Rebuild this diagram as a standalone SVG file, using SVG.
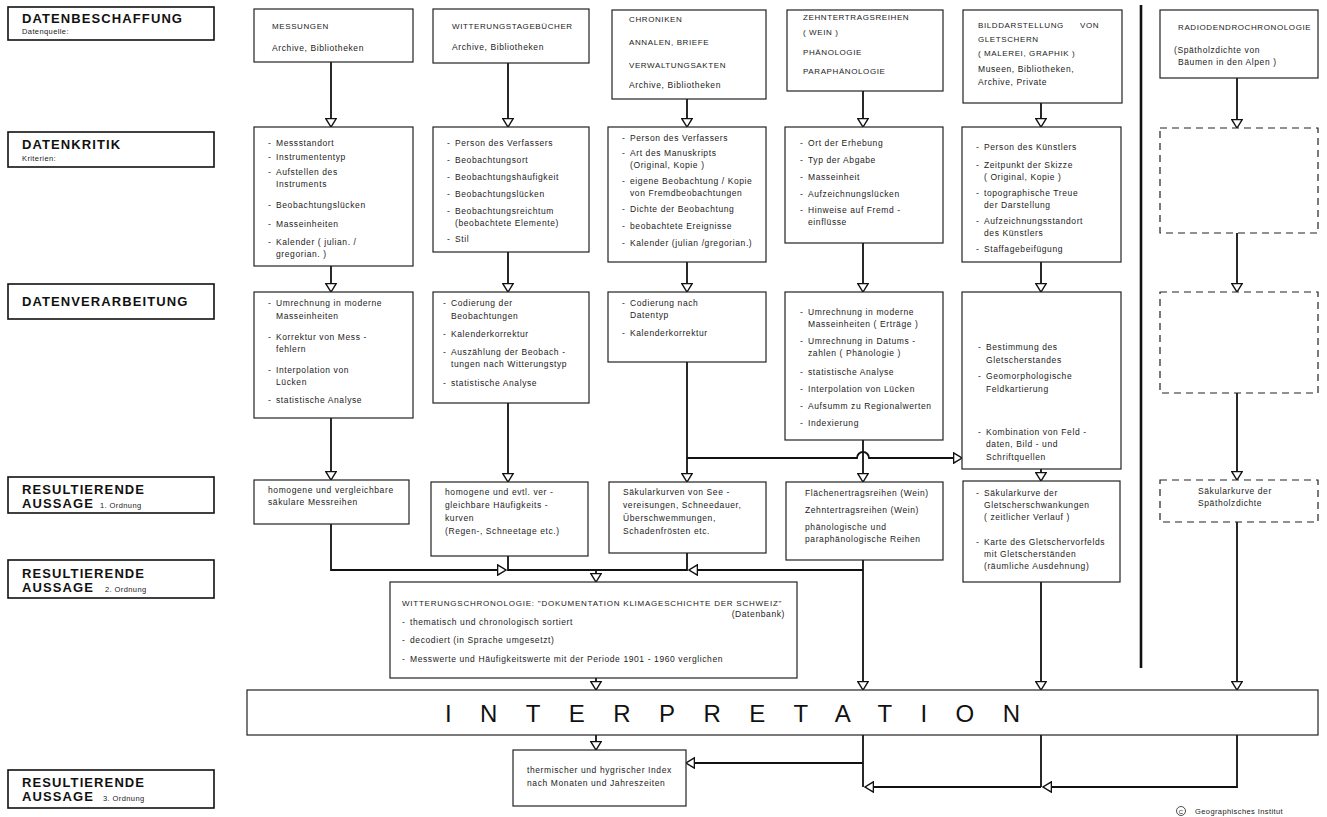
<svg xmlns="http://www.w3.org/2000/svg" width="1327" height="817" viewBox="0 0 1327 817">
<style>
.bg{fill:#ffffff}
.b{fill:#ffffff;stroke:#222;stroke-width:1.2}
.d{fill:#ffffff;stroke:#222;stroke-width:1.2;stroke-dasharray:7 5}
.lb{fill:#ffffff;stroke:#111;stroke-width:1.6}
.c{fill:none;stroke:#111;stroke-width:1.8}
.t{font-family:"Liberation Sans",Arial,sans-serif;font-size:8.5px;letter-spacing:0.6px;fill:#222}
.h{font-family:"Liberation Sans",Arial,sans-serif;font-size:8px;letter-spacing:0.6px;fill:#222}
.L{font-family:"Liberation Sans",Arial,sans-serif;font-size:13px;font-weight:bold;letter-spacing:1.1px;fill:#111}
.s{font-family:"Liberation Sans",Arial,sans-serif;font-size:7.5px;letter-spacing:0.4px;fill:#222}
.I{font-family:"Liberation Sans",Arial,sans-serif;font-size:24px;fill:#111}
</style>
<defs>
<marker id="ar" markerUnits="userSpaceOnUse" viewBox="0 0 10 12" markerWidth="10" markerHeight="12" refX="9.2" refY="6" orient="auto">
<path d="M0.8,0.8 L9.2,6 L0.8,11.2 Z" fill="#ffffff" stroke="#111" stroke-width="1.4"/>
</marker>
</defs>
<rect class="bg" x="0" y="0" width="1327" height="817"/>

<g id="labels">
<g id="lab-beschaffung"><rect class="lb" x="8" y="7" width="206" height="33"/><text class="L" x="22" y="23">DATENBESCHAFFUNG</text><text class="s" x="22" y="34">Datenquelle:</text></g>
<g id="lab-kritik"><rect class="lb" x="8" y="132" width="206" height="35"/><text class="L" x="22" y="149">DATENKRITIK</text><text class="s" x="22" y="161">Kriterien:</text></g>
<g id="lab-verarbeitung"><rect class="lb" x="8" y="284" width="206" height="35"/><text class="L" x="22" y="306">DATENVERARBEITUNG</text></g>
<g id="lab-res1"><rect class="lb" x="8" y="477" width="206" height="36"/><text class="L" x="22" y="494">RESULTIERENDE</text><text class="L" x="22" y="508">AUSSAGE</text><text class="s" x="100" y="508">1. Ordnung</text></g>
<g id="lab-res2"><rect class="lb" x="8" y="560" width="206" height="38"/><text class="L" x="22" y="578">RESULTIERENDE</text><text class="L" x="22" y="592">AUSSAGE</text><text class="s" x="105" y="592">2. Ordnung</text></g>
<g id="lab-res3"><rect class="lb" x="8" y="770" width="206" height="38"/><text class="L" x="22" y="787">RESULTIERENDE</text><text class="L" x="22" y="801">AUSSAGE</text><text class="s" x="103" y="801">3. Ordnung</text></g>
</g>

<line x1="1141" y1="5" x2="1141" y2="668" stroke="#111" stroke-width="2.6"/>

<g id="connectors">
<path class="c" marker-end="url(#ar)" d="M331,62 V127"/>
<path class="c" marker-end="url(#ar)" d="M508,63 V127"/>
<path class="c" marker-end="url(#ar)" d="M687,99 V127"/>
<path class="c" marker-end="url(#ar)" d="M863,91 V127"/>
<path class="c" marker-end="url(#ar)" d="M1041,103 V127"/>
<path class="c" marker-end="url(#ar)" d="M1237,78 V128"/>
<path class="c" marker-end="url(#ar)" d="M331,266 V292"/>
<path class="c" marker-end="url(#ar)" d="M508,252 V292"/>
<path class="c" marker-end="url(#ar)" d="M687,262 V292"/>
<path class="c" marker-end="url(#ar)" d="M863,243 V292"/>
<path class="c" marker-end="url(#ar)" d="M1041,262 V292"/>
<path class="c" marker-end="url(#ar)" d="M1237,233 V292"/>
<path class="c" marker-end="url(#ar)" d="M331,418 V480"/>
<path class="c" marker-end="url(#ar)" d="M508,403 V482"/>
<path class="c" marker-end="url(#ar)" d="M687,362 V482"/>
<path class="c" marker-end="url(#ar)" d="M863,440 V482"/>
<path class="c" marker-end="url(#ar)" d="M1041,469 V481"/>
<path class="c" marker-end="url(#ar)" d="M1237,393 V480"/>
<path class="c" marker-end="url(#ar)" d="M687,458 H857 A6,6 0 0 1 869,458 H962"/>
<path class="c" marker-end="url(#ar)" d="M331,524 V570 H506"/>
<path class="c" d="M508,556 V570 H687 V553"/>
<path class="c" marker-end="url(#ar)" d="M863,570 H689"/>
<path class="c" marker-end="url(#ar)" d="M596,570 V582"/>
<path class="c" marker-end="url(#ar)" d="M863,560 V690"/>
<path class="c" marker-end="url(#ar)" d="M596,678 V690"/>
<path class="c" marker-end="url(#ar)" d="M1041,582 V690"/>
<path class="c" marker-end="url(#ar)" d="M1237,522 V690"/>
<path class="c" marker-end="url(#ar)" d="M596,735 V750"/>
<path class="c" d="M863,735 V787"/>
<path class="c" d="M1041,735 V787"/>
<path class="c" marker-end="url(#ar)" d="M1237,735 V787 H1043"/>
<path class="c" marker-end="url(#ar)" d="M1041,787 H865"/>
<path class="c" marker-end="url(#ar)" d="M863,763 H686"/>
</g>

<g id="n-messungen"><rect class="b" x="254" y="9" width="159" height="53"/><text class="h" x="272" y="29">MESSUNGEN</text><text class="t" x="272" y="51">Archive, Bibliotheken</text></g>
<g id="n-witterungstagebuecher"><rect class="b" x="433" y="9" width="156" height="54"/><text class="h" x="452" y="29">WITTERUNGSTAGEBÜCHER</text><text class="t" x="452" y="50">Archive, Bibliotheken</text></g>
<g id="n-chroniken"><rect class="b" x="612" y="10" width="154" height="89"/><text class="h" x="629" y="22">CHRONIKEN</text><text class="h" x="629" y="45">ANNALEN, BRIEFE</text><text class="h" x="629" y="68">VERWALTUNGSAKTEN</text><text class="t" x="629" y="88">Archive, Bibliotheken</text></g>
<g id="n-zehntertrag"><rect class="b" x="787" y="10" width="156" height="81"/><text class="h" x="803" y="20">ZEHNTERTRAGSREIHEN</text><text class="h" x="803" y="35">( WEIN )</text><text class="h" x="803" y="55">PHÄNOLOGIE</text><text class="h" x="803" y="74">PARAPHÄNOLOGIE</text></g>
<g id="n-bilddarstellung"><rect class="b" x="963" y="10" width="159" height="93"/><text class="h" x="978" y="28">BILDDARSTELLUNG</text><text class="h" x="1080" y="28">VON</text><text class="h" x="978" y="42">GLETSCHERN</text><text class="h" x="978" y="56">( MALEREI, GRAPHIK )</text><text class="t" x="978" y="72">Museen, Bibliotheken,</text><text class="t" x="978" y="85">Archive, Private</text></g>
<g id="n-radiodendro"><rect class="b" x="1160" y="10" width="158" height="68"/><text class="h" x="1178" y="30">RADIODENDROCHRONOLOGIE</text><text class="t" x="1174" y="53">(Spätholzdichte von</text><text class="t" x="1178" y="65">Bäumen in den Alpen )</text></g>

<g id="k-messungen"><rect class="b" x="254" y="127" width="159" height="139"/>
<text class="t"><tspan x="268" y="146">-</tspan><tspan x="276" y="146">Messstandort</tspan><tspan x="268" y="160">-</tspan><tspan x="276" y="160">Instrumententyp</tspan><tspan x="268" y="175">-</tspan><tspan x="276" y="175">Aufstellen des</tspan><tspan x="276" y="187">Instruments</tspan><tspan x="268" y="208">-</tspan><tspan x="276" y="208">Beobachtungslücken</tspan><tspan x="268" y="227">-</tspan><tspan x="276" y="227">Masseinheiten</tspan><tspan x="268" y="245">-</tspan><tspan x="276" y="245">Kalender ( julian. /</tspan><tspan x="276" y="257">gregorian. )</tspan></text></g>
<g id="k-witterung"><rect class="b" x="433" y="127" width="156" height="125"/>
<text class="t"><tspan x="447" y="146">-</tspan><tspan x="455" y="146">Person des Verfassers</tspan><tspan x="447" y="163">-</tspan><tspan x="455" y="163">Beobachtungsort</tspan><tspan x="447" y="180">-</tspan><tspan x="455" y="180">Beobachtungshäufigkeit</tspan><tspan x="447" y="197">-</tspan><tspan x="455" y="197">Beobachtungslücken</tspan><tspan x="447" y="214">-</tspan><tspan x="455" y="214">Beobachtungsreichtum</tspan><tspan x="455" y="226">(beobachtete Elemente)</tspan><tspan x="447" y="242">-</tspan><tspan x="455" y="242">Stil</tspan></text></g>
<g id="k-chroniken"><rect class="b" x="608" y="127" width="158" height="135"/>
<text class="t"><tspan x="622" y="141">-</tspan><tspan x="630" y="141">Person des Verfassers</tspan><tspan x="622" y="156">-</tspan><tspan x="630" y="156">Art des Manuskripts</tspan><tspan x="630" y="168">(Original, Kopie )</tspan><tspan x="622" y="184">-</tspan><tspan x="630" y="184">eigene Beobachtung / Kopie</tspan><tspan x="630" y="196">von Fremdbeobachtungen</tspan><tspan x="622" y="212">-</tspan><tspan x="630" y="212">Dichte der Beobachtung</tspan><tspan x="622" y="229">-</tspan><tspan x="630" y="229">beobachtete Ereignisse</tspan><tspan x="622" y="246">-</tspan><tspan x="630" y="246">Kalender (julian /gregorian.)</tspan></text></g>
<g id="k-zehntertrag"><rect class="b" x="785" y="127" width="158" height="116"/>
<text class="t"><tspan x="800" y="146">-</tspan><tspan x="808" y="146">Ort der Erhebung</tspan><tspan x="800" y="163">-</tspan><tspan x="808" y="163">Typ der Abgabe</tspan><tspan x="800" y="180">-</tspan><tspan x="808" y="180">Masseinheit</tspan><tspan x="800" y="197">-</tspan><tspan x="808" y="197">Aufzeichnungslücken</tspan><tspan x="800" y="213">-</tspan><tspan x="808" y="213">Hinweise auf Fremd -</tspan><tspan x="808" y="225">einflüsse</tspan></text></g>
<g id="k-bild"><rect class="b" x="962" y="127" width="159" height="135"/>
<text class="t"><tspan x="976" y="150">-</tspan><tspan x="984" y="150">Person des Künstlers</tspan><tspan x="976" y="168">-</tspan><tspan x="984" y="168">Zeitpunkt der Skizze</tspan><tspan x="984" y="180">( Original, Kopie )</tspan><tspan x="976" y="196">-</tspan><tspan x="984" y="196">topographische Treue</tspan><tspan x="984" y="208">der Darstellung</tspan><tspan x="976" y="224">-</tspan><tspan x="984" y="224">Aufzeichnungsstandort</tspan><tspan x="984" y="236">des Künstlers</tspan><tspan x="976" y="252">-</tspan><tspan x="984" y="252">Staffagebeifügung</tspan></text></g>
<g id="k-radio"><rect class="d" x="1160" y="128" width="158" height="105"/></g>

<g id="v-messungen"><rect class="b" x="254" y="292" width="159" height="126"/>
<text class="t"><tspan x="268" y="306">-</tspan><tspan x="276" y="306">Umrechnung in moderne</tspan><tspan x="276" y="319">Masseinheiten</tspan><tspan x="268" y="340">-</tspan><tspan x="276" y="340">Korrektur von Mess -</tspan><tspan x="276" y="352">fehlern</tspan><tspan x="268" y="373">-</tspan><tspan x="276" y="373">Interpolation von</tspan><tspan x="276" y="385">Lücken</tspan><tspan x="268" y="403">-</tspan><tspan x="276" y="403">statistische Analyse</tspan></text></g>
<g id="v-witterung"><rect class="b" x="433" y="292" width="156" height="111"/>
<text class="t"><tspan x="443" y="306">-</tspan><tspan x="451" y="306">Codierung der</tspan><tspan x="451" y="319">Beobachtungen</tspan><tspan x="443" y="337">-</tspan><tspan x="451" y="337">Kalenderkorrektur</tspan><tspan x="443" y="355">-</tspan><tspan x="451" y="355">Auszählung der Beobach -</tspan><tspan x="451" y="367">tungen nach Witterungstyp</tspan><tspan x="443" y="386">-</tspan><tspan x="451" y="386">statistische Analyse</tspan></text></g>
<g id="v-chroniken"><rect class="b" x="608" y="292" width="158" height="70"/>
<text class="t"><tspan x="622" y="306">-</tspan><tspan x="630" y="306">Codierung nach</tspan><tspan x="630" y="318">Datentyp</tspan><tspan x="622" y="336">-</tspan><tspan x="630" y="336">Kalenderkorrektur</tspan></text></g>
<g id="v-zehntertrag"><rect class="b" x="785" y="292" width="158" height="148"/>
<text class="t"><tspan x="800" y="315">-</tspan><tspan x="808" y="315">Umrechnung in moderne</tspan><tspan x="808" y="327">Masseinheiten ( Erträge )</tspan><tspan x="800" y="344">-</tspan><tspan x="808" y="344">Umrechnung in Datums -</tspan><tspan x="808" y="356">zahlen ( Phänologie )</tspan><tspan x="800" y="375">-</tspan><tspan x="808" y="375">statistische Analyse</tspan><tspan x="800" y="392">-</tspan><tspan x="808" y="392">Interpolation von Lücken</tspan><tspan x="800" y="409">-</tspan><tspan x="808" y="409">Aufsumm zu Regionalwerten</tspan><tspan x="800" y="426">-</tspan><tspan x="808" y="426">Indexierung</tspan></text></g>
<g id="v-bild"><rect class="b" x="962" y="292" width="159" height="177"/>
<text class="t"><tspan x="978" y="350">-</tspan><tspan x="986" y="350">Bestimmung des</tspan><tspan x="986" y="363">Gletscherstandes</tspan><tspan x="978" y="379">-</tspan><tspan x="986" y="379">Geomorphologische</tspan><tspan x="986" y="392">Feldkartierung</tspan><tspan x="978" y="435">-</tspan><tspan x="986" y="435">Kombination von Feld -</tspan><tspan x="986" y="447">daten, Bild - und</tspan><tspan x="986" y="460">Schriftquellen</tspan></text></g>
<g id="v-radio"><rect class="d" x="1160" y="292" width="158" height="101"/></g>

<g id="r-messungen"><rect class="b" x="254" y="480" width="155" height="44"/><text class="t"><tspan x="268" y="493">homogene und vergleichbare</tspan><tspan x="268" y="505">säkulare Messreihen</tspan></text></g>
<g id="r-witterung"><rect class="b" x="431" y="482" width="157" height="74"/><text class="t"><tspan x="445" y="495">homogene und evtl. ver -</tspan><tspan x="445" y="508">gleichbare Häufigkeits -</tspan><tspan x="445" y="521">kurven</tspan><tspan x="445" y="534">(Regen-, Schneetage etc.)</tspan></text></g>
<g id="r-chroniken"><rect class="b" x="609" y="482" width="157" height="71"/><text class="t"><tspan x="623" y="495">Säkularkurven von See -</tspan><tspan x="623" y="508">vereisungen, Schneedauer,</tspan><tspan x="623" y="521">Überschwemmungen,</tspan><tspan x="623" y="534">Schadenfrösten etc.</tspan></text></g>
<g id="r-zehntertrag"><rect class="b" x="786" y="482" width="157" height="78"/><text class="t"><tspan x="805" y="496">Flächenertragsreihen (Wein)</tspan><tspan x="805" y="513">Zehntertragsreihen (Wein)</tspan><tspan x="805" y="530">phänologische und</tspan><tspan x="805" y="542">paraphänologische Reihen</tspan></text></g>
<g id="r-bild"><rect class="b" x="963" y="481" width="157" height="101"/><text class="t"><tspan x="976" y="496">-</tspan><tspan x="984" y="496">Säkularkurve der</tspan><tspan x="984" y="508">Gletscherschwankungen</tspan><tspan x="984" y="520">( zeitlicher Verlauf )</tspan><tspan x="976" y="545">-</tspan><tspan x="984" y="545">Karte des Gletschervorfelds</tspan><tspan x="984" y="557">mit Gletscherständen</tspan><tspan x="984" y="569">(räumliche Ausdehnung)</tspan></text></g>
<g id="r-radio"><rect class="d" x="1160" y="480" width="158" height="42"/><text class="t"><tspan x="1198" y="494">Säkularkurve der</tspan><tspan x="1198" y="506">Spätholzdichte</tspan></text></g>

<g id="n-witterungschronologie"><rect class="b" x="390" y="582" width="407" height="96"/>
<text class="h" x="402" y="606" textLength="380" lengthAdjust="spacing">WITTERUNGSCHRONOLOGIE: "DOKUMENTATION KLIMAGESCHICHTE DER SCHWEIZ"</text>
<text class="t" x="785" y="617" text-anchor="end">(Datenbank)</text>
<text class="t"><tspan x="402" y="625">-</tspan><tspan x="410" y="625">thematisch und chronologisch sortiert</tspan><tspan x="402" y="643">-</tspan><tspan x="410" y="643">decodiert (in Sprache umgesetzt)</tspan><tspan x="402" y="662">-</tspan><tspan x="410" y="662">Messwerte und Häufigkeitswerte mit der Periode 1901 - 1960 verglichen</tspan></text></g>

<g id="n-interpretation"><rect class="b" x="247" y="690" width="1071" height="45"/><text class="I" x="445" y="722" textLength="575" lengthAdjust="spacing">INTERPRETATION</text></g>

<g id="n-index"><rect class="b" x="513" y="750" width="173" height="56"/><text class="t"><tspan x="527" y="773">thermischer und hygrischer Index</tspan><tspan x="527" y="786">nach Monaten und Jahreszeiten</tspan></text></g>

<g id="copyright"><circle cx="1181" cy="811" r="4.5" fill="none" stroke="#222" stroke-width="0.8"/><text class="s" x="1181" y="813.5" text-anchor="middle" style="font-size:6px;letter-spacing:0">C</text><text class="s" x="1195" y="814">Geographisches Institut</text></g>
</svg>
